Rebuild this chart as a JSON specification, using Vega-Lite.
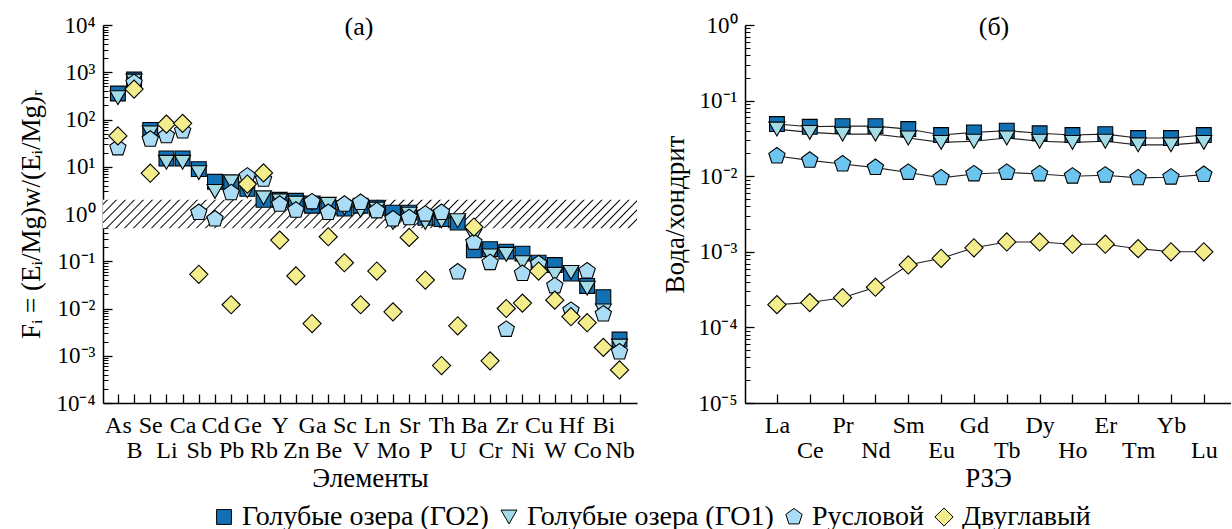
{
"$schema": "https://vega.github.io/schema/vega-lite/v6.json",
"background": "white",
"padding": {"left": 17, "top": 14, "right": 0, "bottom": 0},
"spacing": 24,
"datasets": {
"a": [
{"el":"As","s":"ГО2","v":355},{"el":"B","s":"ГО2","v":700},{"el":"Se","s":"ГО2","v":60},{"el":"Li","s":"ГО2","v":15},{"el":"Ca","s":"ГО2","v":15},{"el":"Sb","s":"ГО2","v":8.9},{"el":"Cd","s":"ГО2","v":4.8},{"el":"Pb","s":"ГО2","v":4.3},{"el":"Ge","s":"ГО2","v":3.4},{"el":"Rb","s":"ГО2","v":2.0},{"el":"Y","s":"ГО2","v":2.0},{"el":"Zn","s":"ГО2","v":1.9},{"el":"Ga","s":"ГО2","v":1.5},{"el":"Be","s":"ГО2","v":1.5},{"el":"Sc","s":"ГО2","v":1.3},{"el":"V","s":"ГО2","v":1.5},{"el":"Ln","s":"ГО2","v":1.36},{"el":"Mo","s":"ГО2","v":1.07},{"el":"Sr","s":"ГО2","v":1.07},{"el":"P","s":"ГО2","v":0.83},{"el":"Th","s":"ГО2","v":0.78},{"el":"U","s":"ГО2","v":0.66},{"el":"Ba","s":"ГО2","v":0.17},{"el":"Cr","s":"ГО2","v":0.18},{"el":"Zr","s":"ГО2","v":0.16},{"el":"Ni","s":"ГО2","v":0.145},{"el":"Cu","s":"ГО2","v":0.093},{"el":"W","s":"ГО2","v":0.083},{"el":"Hf","s":"ГО2","v":0.055},{"el":"Co","s":"ГО2","v":0.03},{"el":"Bi","s":"ГО2","v":0.0174},{"el":"Nb","s":"ГО2","v":0.0022},
{"el":"As","s":"ГО1","v":290},{"el":"B","s":"ГО1","v":650},{"el":"Se","s":"ГО1","v":52},{"el":"Li","s":"ГО1","v":12.4},{"el":"Ca","s":"ГО1","v":12.4},{"el":"Sb","s":"ГО1","v":7.5},{"el":"Cd","s":"ГО1","v":3.0},{"el":"Pb","s":"ГО1","v":4.8},{"el":"Ge","s":"ГО1","v":3.1},{"el":"Rb","s":"ГО1","v":2.2},{"el":"Y","s":"ГО1","v":1.9},{"el":"Zn","s":"ГО1","v":1.7},{"el":"Ga","s":"ГО1","v":1.7},{"el":"Be","s":"ГО1","v":1.6},{"el":"Sc","s":"ГО1","v":1.35},{"el":"V","s":"ГО1","v":1.2},{"el":"Ln","s":"ГО1","v":1.27},{"el":"Mo","s":"ГО1","v":0.66},{"el":"Sr","s":"ГО1","v":0.99},{"el":"P","s":"ГО1","v":0.66},{"el":"Th","s":"ГО1","v":0.72},{"el":"U","s":"ГО1","v":0.72},{"el":"Ba","s":"ГО1","v":0.34},{"el":"Cr","s":"ГО1","v":0.13},{"el":"Zr","s":"ГО1","v":0.14},{"el":"Ni","s":"ГО1","v":0.093},{"el":"Cu","s":"ГО1","v":0.07},{"el":"W","s":"ГО1","v":0.053},{"el":"Hf","s":"ГО1","v":0.058},{"el":"Co","s":"ГО1","v":0.027},{"el":"Bi","s":"ГО1","v":0.0089},{"el":"Nb","s":"ГО1","v":0.0016},
{"el":"As","s":"Русловой","v":25},{"el":"B","s":"Русловой","v":600},{"el":"Se","s":"Русловой","v":38},{"el":"Li","s":"Русловой","v":45},{"el":"Ca","s":"Русловой","v":57},{"el":"Sb","s":"Русловой","v":1.07},{"el":"Cd","s":"Русловой","v":0.78},{"el":"Pb","s":"Русловой","v":2.8},{"el":"Ge","s":"Русловой","v":6.3},{"el":"Rb","s":"Русловой","v":5.4},{"el":"Y","s":"Русловой","v":1.6},{"el":"Zn","s":"Русловой","v":1.2},{"el":"Ga","s":"Русловой","v":1.8},{"el":"Be","s":"Русловой","v":1.07},{"el":"Sc","s":"Русловой","v":1.6},{"el":"V","s":"Русловой","v":1.75},{"el":"Ln","s":"Русловой","v":1.16},{"el":"Mo","s":"Русловой","v":0.78},{"el":"Sr","s":"Русловой","v":0.83},{"el":"P","s":"Русловой","v":0.99},{"el":"Th","s":"Русловой","v":1.07},{"el":"U","s":"Русловой","v":0.059},{"el":"Ba","s":"Русловой","v":0.25},{"el":"Cr","s":"Русловой","v":0.093},{"el":"Zr","s":"Русловой","v":0.0036},{"el":"Ni","s":"Русловой","v":0.055},{"el":"Cu","s":"Русловой","v":0.088},{"el":"W","s":"Русловой","v":0.030},{"el":"Hf","s":"Русловой","v":0.0091},{"el":"Co","s":"Русловой","v":0.062},{"el":"Bi","s":"Русловой","v":0.0076},{"el":"Nb","s":"Русловой","v":0.0012},
{"el":"As","s":"Двуглавый","v":45},{"el":"B","s":"Двуглавый","v":440},{"el":"Se","s":"Двуглавый","v":7.3},{"el":"Li","s":"Двуглавый","v":80},{"el":"Ca","s":"Двуглавый","v":83},{"el":"Sb","s":"Двуглавый","v":0.053},{"el":"Pb","s":"Двуглавый","v":0.012},{"el":"Ge","s":"Двуглавый","v":4.3},{"el":"Rb","s":"Двуглавый","v":7.4},{"el":"Y","s":"Двуглавый","v":0.28},{"el":"Zn","s":"Двуглавый","v":0.049},{"el":"Ga","s":"Двуглавый","v":0.0048},{"el":"Be","s":"Двуглавый","v":0.33},{"el":"Sc","s":"Двуглавый","v":0.093},{"el":"V","s":"Двуглавый","v":0.012},{"el":"Ln","s":"Двуглавый","v":0.062},{"el":"Mo","s":"Двуглавый","v":0.0085},{"el":"Sr","s":"Двуглавый","v":0.32},{"el":"P","s":"Двуглавый","v":0.040},{"el":"Th","s":"Двуглавый","v":0.00062},{"el":"U","s":"Двуглавый","v":0.0043},{"el":"Ba","s":"Двуглавый","v":0.53},{"el":"Cr","s":"Двуглавый","v":0.00078},{"el":"Zr","s":"Двуглавый","v":0.010},{"el":"Ni","s":"Двуглавый","v":0.013},{"el":"Cu","s":"Двуглавый","v":0.062},{"el":"W","s":"Двуглавый","v":0.015},{"el":"Hf","s":"Двуглавый","v":0.0067},{"el":"Co","s":"Двуглавый","v":0.0050},{"el":"Bi","s":"Двуглавый","v":0.0015},{"el":"Nb","s":"Двуглавый","v":0.0005}
],
"b": [
{"el":"La","s":"ГО2","v":0.049},{"el":"Ce","s":"ГО2","v":0.045},{"el":"Pr","s":"ГО2","v":0.046},{"el":"Nd","s":"ГО2","v":0.046},{"el":"Sm","s":"ГО2","v":0.042},{"el":"Eu","s":"ГО2","v":0.035},{"el":"Gd","s":"ГО2","v":0.038},{"el":"Tb","s":"ГО2","v":0.040},{"el":"Dy","s":"ГО2","v":0.037},{"el":"Ho","s":"ГО2","v":0.035},{"el":"Er","s":"ГО2","v":0.036},{"el":"Tm","s":"ГО2","v":0.032},{"el":"Yb","s":"ГО2","v":0.032},{"el":"Lu","s":"ГО2","v":0.035},
{"el":"La","s":"ГО1","v":0.042},{"el":"Ce","s":"ГО1","v":0.038},{"el":"Pr","s":"ГО1","v":0.036},{"el":"Nd","s":"ГО1","v":0.036},{"el":"Sm","s":"ГО1","v":0.032},{"el":"Eu","s":"ГО1","v":0.028},{"el":"Gd","s":"ГО1","v":0.029},{"el":"Tb","s":"ГО1","v":0.032},{"el":"Dy","s":"ГО1","v":0.029},{"el":"Ho","s":"ГО1","v":0.028},{"el":"Er","s":"ГО1","v":0.029},{"el":"Tm","s":"ГО1","v":0.026},{"el":"Yb","s":"ГО1","v":0.026},{"el":"Lu","s":"ГО1","v":0.028},
{"el":"La","s":"Русловой","v":0.0185},{"el":"Ce","s":"Русловой","v":0.0162},{"el":"Pr","s":"Русловой","v":0.0145},{"el":"Nd","s":"Русловой","v":0.013},{"el":"Sm","s":"Русловой","v":0.0112},{"el":"Eu","s":"Русловой","v":0.0095},{"el":"Gd","s":"Русловой","v":0.0107},{"el":"Tb","s":"Русловой","v":0.0112},{"el":"Dy","s":"Русловой","v":0.0107},{"el":"Ho","s":"Русловой","v":0.010},{"el":"Er","s":"Русловой","v":0.0103},{"el":"Tm","s":"Русловой","v":0.0095},{"el":"Yb","s":"Русловой","v":0.0097},{"el":"Lu","s":"Русловой","v":0.0105},
{"el":"La","s":"Двуглавый","v":0.0002},{"el":"Ce","s":"Двуглавый","v":0.000213},{"el":"Pr","s":"Двуглавый","v":0.000247},{"el":"Nd","s":"Двуглавый","v":0.00034},{"el":"Sm","s":"Двуглавый","v":0.00067},{"el":"Eu","s":"Двуглавый","v":0.00082},{"el":"Gd","s":"Двуглавый","v":0.00113},{"el":"Tb","s":"Двуглавый","v":0.00135},{"el":"Dy","s":"Двуглавый","v":0.00135},{"el":"Ho","s":"Двуглавый","v":0.00126},{"el":"Er","s":"Двуглавый","v":0.00126},{"el":"Tm","s":"Двуглавый","v":0.0011},{"el":"Yb","s":"Двуглавый","v":0.001},{"el":"Lu","s":"Двуглавый","v":0.001}
]
},
"hconcat": [
{
"width": 534, "height": 378,
"title": {"text": "(a)", "font": "Liberation Serif", "fontSize": 26, "fontWeight": "normal", "color": "black", "anchor": "middle", "frame": "group", "baseline": "top", "offset": -26, "dx": -11},
"layer": [
{
"data": {"values": [{"lo": 0.5, "hi": 2}]},
"mark": {"type": "rect", "fill": {"gradient": "linear", "x1": 0, "y1": 0, "x2": 1.0495, "y2": 0.055, "stops": [
{"offset":0,"color":"#fff"},
{"offset":0.0055,"color":"#fff"},{"offset":0.008,"color":"#000"},{"offset":0.0105,"color":"#fff"},
{"offset":0.0215,"color":"#fff"},{"offset":0.024,"color":"#000"},{"offset":0.0265,"color":"#fff"},
{"offset":0.0375,"color":"#fff"},{"offset":0.040,"color":"#000"},{"offset":0.0425,"color":"#fff"},
{"offset":0.0535,"color":"#fff"},{"offset":0.056,"color":"#000"},{"offset":0.0585,"color":"#fff"},
{"offset":0.0695,"color":"#fff"},{"offset":0.072,"color":"#000"},{"offset":0.0745,"color":"#fff"},
{"offset":0.0855,"color":"#fff"},{"offset":0.088,"color":"#000"},{"offset":0.0905,"color":"#fff"},
{"offset":0.1015,"color":"#fff"},{"offset":0.104,"color":"#000"},{"offset":0.1065,"color":"#fff"},
{"offset":0.1175,"color":"#fff"},{"offset":0.120,"color":"#000"},{"offset":0.1225,"color":"#fff"},
{"offset":0.1335,"color":"#fff"},{"offset":0.136,"color":"#000"},{"offset":0.1385,"color":"#fff"},
{"offset":0.1495,"color":"#fff"},{"offset":0.152,"color":"#000"},{"offset":0.1545,"color":"#fff"},
{"offset":0.1655,"color":"#fff"},{"offset":0.168,"color":"#000"},{"offset":0.1705,"color":"#fff"},
{"offset":0.1815,"color":"#fff"},{"offset":0.184,"color":"#000"},{"offset":0.1865,"color":"#fff"},
{"offset":0.1975,"color":"#fff"},{"offset":0.200,"color":"#000"},{"offset":0.2025,"color":"#fff"},
{"offset":0.2135,"color":"#fff"},{"offset":0.216,"color":"#000"},{"offset":0.2185,"color":"#fff"},
{"offset":0.2295,"color":"#fff"},{"offset":0.232,"color":"#000"},{"offset":0.2345,"color":"#fff"},
{"offset":0.2455,"color":"#fff"},{"offset":0.248,"color":"#000"},{"offset":0.2505,"color":"#fff"},
{"offset":0.2615,"color":"#fff"},{"offset":0.264,"color":"#000"},{"offset":0.2665,"color":"#fff"},
{"offset":0.2775,"color":"#fff"},{"offset":0.280,"color":"#000"},{"offset":0.2825,"color":"#fff"},
{"offset":0.2935,"color":"#fff"},{"offset":0.296,"color":"#000"},{"offset":0.2985,"color":"#fff"},
{"offset":0.3095,"color":"#fff"},{"offset":0.312,"color":"#000"},{"offset":0.3145,"color":"#fff"},
{"offset":0.3255,"color":"#fff"},{"offset":0.328,"color":"#000"},{"offset":0.3305,"color":"#fff"},
{"offset":0.3415,"color":"#fff"},{"offset":0.344,"color":"#000"},{"offset":0.3465,"color":"#fff"},
{"offset":0.3575,"color":"#fff"},{"offset":0.360,"color":"#000"},{"offset":0.3625,"color":"#fff"},
{"offset":0.3735,"color":"#fff"},{"offset":0.376,"color":"#000"},{"offset":0.3785,"color":"#fff"},
{"offset":0.3895,"color":"#fff"},{"offset":0.392,"color":"#000"},{"offset":0.3945,"color":"#fff"},
{"offset":0.4055,"color":"#fff"},{"offset":0.408,"color":"#000"},{"offset":0.4105,"color":"#fff"},
{"offset":0.4215,"color":"#fff"},{"offset":0.424,"color":"#000"},{"offset":0.4265,"color":"#fff"},
{"offset":0.4375,"color":"#fff"},{"offset":0.440,"color":"#000"},{"offset":0.4425,"color":"#fff"},
{"offset":0.4535,"color":"#fff"},{"offset":0.456,"color":"#000"},{"offset":0.4585,"color":"#fff"},
{"offset":0.4695,"color":"#fff"},{"offset":0.472,"color":"#000"},{"offset":0.4745,"color":"#fff"},
{"offset":0.4855,"color":"#fff"},{"offset":0.488,"color":"#000"},{"offset":0.4905,"color":"#fff"},
{"offset":0.5015,"color":"#fff"},{"offset":0.504,"color":"#000"},{"offset":0.5065,"color":"#fff"},
{"offset":0.5175,"color":"#fff"},{"offset":0.520,"color":"#000"},{"offset":0.5225,"color":"#fff"},
{"offset":0.5335,"color":"#fff"},{"offset":0.536,"color":"#000"},{"offset":0.5385,"color":"#fff"},
{"offset":0.5495,"color":"#fff"},{"offset":0.552,"color":"#000"},{"offset":0.5545,"color":"#fff"},
{"offset":0.5655,"color":"#fff"},{"offset":0.568,"color":"#000"},{"offset":0.5705,"color":"#fff"},
{"offset":0.5815,"color":"#fff"},{"offset":0.584,"color":"#000"},{"offset":0.5865,"color":"#fff"},
{"offset":0.5975,"color":"#fff"},{"offset":0.600,"color":"#000"},{"offset":0.6025,"color":"#fff"},
{"offset":0.6135,"color":"#fff"},{"offset":0.616,"color":"#000"},{"offset":0.6185,"color":"#fff"},
{"offset":0.6295,"color":"#fff"},{"offset":0.632,"color":"#000"},{"offset":0.6345,"color":"#fff"},
{"offset":0.6455,"color":"#fff"},{"offset":0.648,"color":"#000"},{"offset":0.6505,"color":"#fff"},
{"offset":0.6615,"color":"#fff"},{"offset":0.664,"color":"#000"},{"offset":0.6665,"color":"#fff"},
{"offset":0.6775,"color":"#fff"},{"offset":0.680,"color":"#000"},{"offset":0.6825,"color":"#fff"},
{"offset":0.6935,"color":"#fff"},{"offset":0.696,"color":"#000"},{"offset":0.6985,"color":"#fff"},
{"offset":0.7095,"color":"#fff"},{"offset":0.712,"color":"#000"},{"offset":0.7145,"color":"#fff"},
{"offset":0.7255,"color":"#fff"},{"offset":0.728,"color":"#000"},{"offset":0.7305,"color":"#fff"},
{"offset":0.7415,"color":"#fff"},{"offset":0.744,"color":"#000"},{"offset":0.7465,"color":"#fff"},
{"offset":0.7575,"color":"#fff"},{"offset":0.760,"color":"#000"},{"offset":0.7625,"color":"#fff"},
{"offset":0.7735,"color":"#fff"},{"offset":0.776,"color":"#000"},{"offset":0.7785,"color":"#fff"},
{"offset":0.7895,"color":"#fff"},{"offset":0.792,"color":"#000"},{"offset":0.7945,"color":"#fff"},
{"offset":0.8055,"color":"#fff"},{"offset":0.808,"color":"#000"},{"offset":0.8105,"color":"#fff"},
{"offset":0.8215,"color":"#fff"},{"offset":0.824,"color":"#000"},{"offset":0.8265,"color":"#fff"},
{"offset":0.8375,"color":"#fff"},{"offset":0.840,"color":"#000"},{"offset":0.8425,"color":"#fff"},
{"offset":0.8535,"color":"#fff"},{"offset":0.856,"color":"#000"},{"offset":0.8585,"color":"#fff"},
{"offset":0.8695,"color":"#fff"},{"offset":0.872,"color":"#000"},{"offset":0.8745,"color":"#fff"},
{"offset":0.8855,"color":"#fff"},{"offset":0.888,"color":"#000"},{"offset":0.8905,"color":"#fff"},
{"offset":0.9015,"color":"#fff"},{"offset":0.904,"color":"#000"},{"offset":0.9065,"color":"#fff"},
{"offset":0.9175,"color":"#fff"},{"offset":0.920,"color":"#000"},{"offset":0.9225,"color":"#fff"},
{"offset":0.9335,"color":"#fff"},{"offset":0.936,"color":"#000"},{"offset":0.9385,"color":"#fff"},
{"offset":0.9495,"color":"#fff"},{"offset":0.952,"color":"#000"},{"offset":0.9545,"color":"#fff"},
{"offset":0.9655,"color":"#fff"},{"offset":0.968,"color":"#000"},{"offset":0.9705,"color":"#fff"},
{"offset":0.9815,"color":"#fff"},{"offset":0.984,"color":"#000"},{"offset":0.9865,"color":"#fff"},
{"offset":1,"color":"#fff"}
]}},
"encoding": {
"y": {"field": "hi", "type": "quantitative", "scale": {"type": "log", "domain": [0.0001, 10000], "nice": false},
"axis": {"orient": "left", "title": null, "labels": false, "domain": false, "tickSize": -5, "tickWidth": 1,
"values": [0.0002,0.0003,0.0004,0.0005,0.0006,0.0007,0.0008,0.0009,0.002,0.003,0.004,0.005,0.006,0.007,0.008,0.009,0.02,0.03,0.04,0.05,0.06,0.07,0.08,0.09,0.2,0.3,0.4,0.5,0.6,0.7,0.8,0.9,2,3,4,5,6,7,8,9,20,30,40,50,60,70,80,90,200,300,400,500,600,700,800,900,2000,3000,4000,5000,6000,7000,8000,9000]}},
"y2": {"field": "lo"}
}
},
{
"data": {"name": "a"},
"mark": {"type": "point", "filled": true, "stroke": "black", "strokeWidth": 1.1, "opacity": 1},
"encoding": {
"x": {"field": "el", "type": "nominal", "sort": ["As","B","Se","Li","Ca","Sb","Cd","Pb","Ge","Rb","Y","Zn","Ga","Be","Sc","V","Ln","Mo","Sr","P","Th","U","Ba","Cr","Zr","Ni","Cu","W","Hf","Co","Bi","Nb"],
"scale": {"type": "point", "padding": 1.08, "align": 0.46},
"axis": {"title": "Элементы", "labelAngle": 0, "labelBaseline": "top", "labelLineHeight": 25, "tickSize": -9, "labelPadding": 19, "titlePadding": 3, "labelFontSize": 24,
"labelExpr": "indexof(['B','Li','Sb','Pb','Rb','Zn','Be','V','Mo','P','U','Cr','Ni','W','Co','Nb'], datum.label) >= 0 ? [' ', datum.label] : datum.label"}},
"y": {"field": "v", "type": "quantitative", "scale": {"type": "log", "domain": [0.0001, 10000], "nice": false},
"axis": {"orient": "left", "title": "Fᵢ = (Eᵢ/Mg)w/(Eᵢ/Mg)ᵣ", "titlePadding": 10, "tickSize": -9, "labelPadding": 17,
"values": [0.0001,0.001,0.01,0.1,1,10,100,1000,10000],
"labelExpr": "'10' + ['⁻⁴','⁻³','⁻²','⁻¹','⁰','¹','²','³','⁴'][round(log(datum.value)/LN10)+4]"}},
"color": {"field": "s", "type": "nominal", "scale": {"domain": ["ГО2","ГО1","Русловой","Двуглавый"], "range": ["#1271b5","#a3dbe5","#aadcf5","#f3ed8b"]},
"legend": {"title": null, "orient": "none", "legendX": 107, "legendY": 478, "direction": "horizontal", "symbolSize": 260, "labelFontSize": 28, "labelFont": "Liberation Serif", "labelColor": "black", "labelLimit": 0, "columnPadding": 6, "labelOffset": 4, "symbolStrokeColor": "black", "symbolStrokeWidth": 1,
"labelExpr": "datum.label == 'ГО2' ? 'Голубые озера (ГО2)' : datum.label == 'ГО1' ? 'Голубые озера (ГО1)' : datum.label"}},
"shape": {"field": "s", "type": "nominal", "scale": {"domain": ["ГО2","ГО1","Русловой","Двуглавый"], "range": ["square","triangle-down","M0,-1L0.951,-0.309L0.588,0.809L-0.588,0.809L-0.951,-0.309Z","diamond"]},
"legend": {"title": null, "orient": "none", "legendX": 107, "legendY": 478, "direction": "horizontal", "symbolSize": 260, "labelFontSize": 28, "labelFont": "Liberation Serif", "labelColor": "black", "labelLimit": 0, "columnPadding": 6, "labelOffset": 4, "symbolStrokeColor": "black", "symbolStrokeWidth": 1,
"labelExpr": "datum.label == 'ГО2' ? 'Голубые озера (ГО2)' : datum.label == 'ГО1' ? 'Голубые озера (ГО1)' : datum.label"}},
"size": {"field": "s", "type": "ordinal", "scale": {"domain": ["ГО2","ГО1","Русловой","Двуглавый"], "range": [220, 330, 320, 290]}, "legend": null}
}
}
],
"resolve": {"axis": {"y": "independent"}}
},
{
"width": 486, "height": 378,
"title": {"text": "(б)", "font": "Liberation Serif", "fontSize": 26, "fontWeight": "normal", "color": "black", "anchor": "middle", "frame": "group", "baseline": "top", "offset": -26, "dx": 6},
"data": {"name": "b"},
"encoding": {
"x": {"field": "el", "type": "nominal", "sort": ["La","Ce","Pr","Nd","Sm","Eu","Gd","Tb","Dy","Ho","Er","Tm","Yb","Lu"],
"scale": {"type": "point", "padding": 0.9, "align": 0.54},
"axis": {"title": "РЗЭ", "labelAngle": 0, "labelBaseline": "top", "labelLineHeight": 25, "tickSize": -9, "labelPadding": 19, "titlePadding": 3, "labelFontSize": 24,
"labelExpr": "indexof(['Ce','Nd','Eu','Tb','Ho','Tm','Lu'], datum.label) >= 0 ? [' ', datum.label] : datum.label"}}
},
"layer": [
{
"mark": {"type": "line", "color": "#222", "strokeWidth": 1.1},
"encoding": {
"y": {"field": "v", "type": "quantitative", "scale": {"type": "log", "domain": [0.00001, 1], "nice": false},
"axis": {"orient": "left", "title": null, "labels": false, "domain": false, "tickSize": -5, "tickWidth": 1,
"values": [0.00002,0.00003,0.00004,0.00005,0.00006,0.00007,0.00008,0.00009,0.0002,0.0003,0.0004,0.0005,0.0006,0.0007,0.0008,0.0009,0.002,0.003,0.004,0.005,0.006,0.007,0.008,0.009,0.02,0.03,0.04,0.05,0.06,0.07,0.08,0.09,0.2,0.3,0.4,0.5,0.6,0.7,0.8,0.9]}},
"detail": {"field": "s"}
}
},
{
"mark": {"type": "point", "filled": true, "stroke": "black", "strokeWidth": 1.1, "opacity": 1},
"encoding": {
"y": {"field": "v", "type": "quantitative", "scale": {"type": "log", "domain": [0.00001, 1], "nice": false},
"axis": {"orient": "left", "title": "Вода/хондрит", "titlePadding": 8, "tickSize": -9, "labelPadding": 17,
"values": [0.00001,0.0001,0.001,0.01,0.1,1],
"labelExpr": "'10' + ['⁻⁵','⁻⁴','⁻³','⁻²','⁻¹','⁰'][round(log(datum.value)/LN10)+5]"}},
"fill": {"field": "s", "type": "nominal", "scale": {"domain": ["ГО2","ГО1","Русловой","Двуглавый"], "range": ["#1271b5","#a3dbe5","#6cc5ef","#f3ed8b"]}, "legend": null},
"shape": {"field": "s", "type": "nominal", "scale": {"domain": ["ГО2","ГО1","Русловой","Двуглавый"], "range": ["square","triangle-down","M0,-1L0.951,-0.309L0.588,0.809L-0.588,0.809L-0.951,-0.309Z","diamond"]},
"legend": {"title": null, "orient": "none", "legendX": 107, "legendY": 478, "direction": "horizontal", "symbolSize": 260, "labelFontSize": 28, "labelFont": "Liberation Serif", "labelColor": "black", "labelLimit": 0, "columnPadding": 6, "labelOffset": 4, "symbolStrokeColor": "black", "symbolStrokeWidth": 1,
"labelExpr": "datum.label == 'ГО2' ? 'Голубые озера (ГО2)' : datum.label == 'ГО1' ? 'Голубые озера (ГО1)' : datum.label"}},
"size": {"field": "s", "type": "ordinal", "scale": {"domain": ["ГО2","ГО1","Русловой","Двуглавый"], "range": [220, 330, 320, 290]}, "legend": null}
}
}
],
"resolve": {"axis": {"y": "independent"}}
}
],
"config": {
"view": {"stroke": null},
"font": "Liberation Serif",
"axis": {"grid": false, "domainColor": "black", "domainWidth": 1.5, "tickColor": "black", "tickWidth": 1.3, "labelColor": "black", "titleColor": "black", "labelFont": "Liberation Serif", "titleFont": "Liberation Serif", "titleFontWeight": "normal", "labelFontSize": 23, "titleFontSize": 27, "labelOverlap": false, "labelBound": false, "labelFlush": false}
}
}
